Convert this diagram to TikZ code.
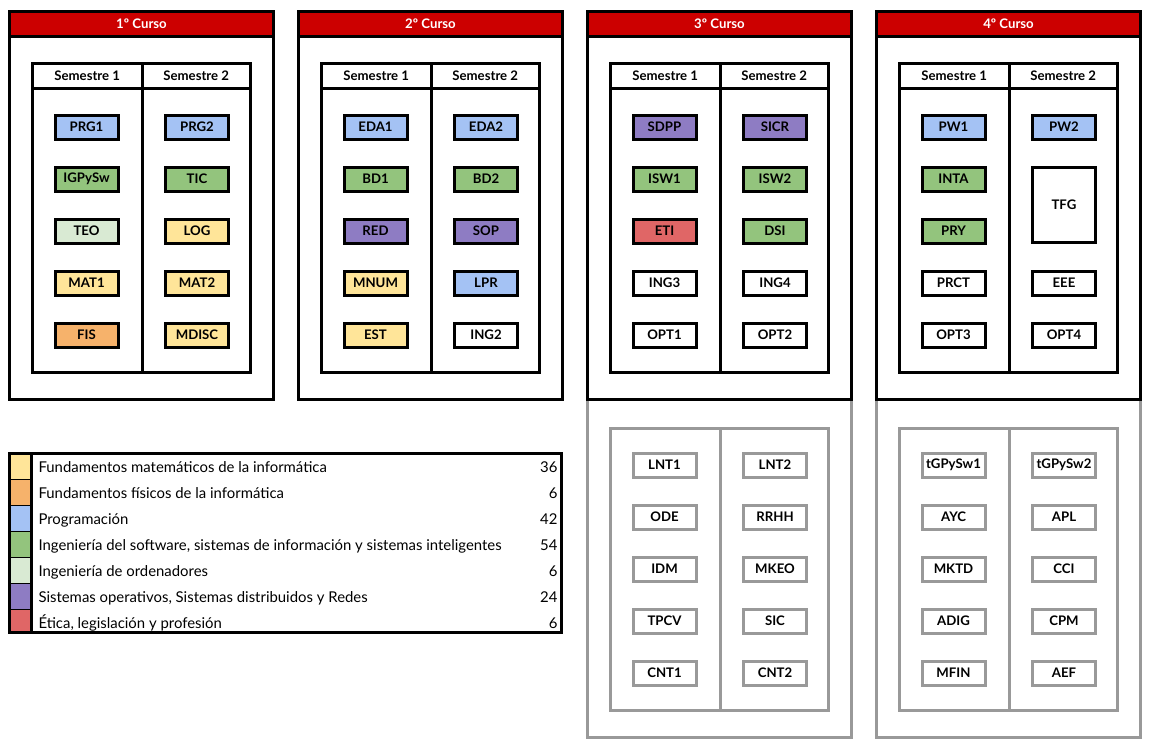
\documentclass[tikz,border=0pt]{standalone}
\usepackage{fontspec}
\setmainfont{Lato}
\usetikzlibrary{positioning}
\definecolor{hdrred}{HTML}{CC0000}
\definecolor{optgray}{HTML}{999999}
\definecolor{cmat}{HTML}{FFE599}
\definecolor{cfis}{HTML}{F6B26B}
\definecolor{cprog}{HTML}{A4C2F4}
\definecolor{csoft}{HTML}{93C47D}
\definecolor{ccomp}{HTML}{D9EAD3}
\definecolor{cso}{HTML}{8E7CC3}
\definecolor{ceti}{HTML}{E06666}

\begin{document}
\begin{tikzpicture}[x=1pt,y=1pt,line width=3pt,
  font=\bfseries\fontsize{13.2}{15}\selectfont,
  subj/.style={draw,minimum width=63pt,minimum height=24pt,inner sep=0pt},
  optsubj/.style={subj,draw=optgray,fill=white},
  legtext/.style={inner sep=0pt,font=\normalfont\fontsize{14.9}{17}\selectfont}]
  \useasboundingbox (0,0) rectangle (1154,-750);
  % optional blocks (3 and 4)
  \foreach \c in {2,3} {
    \draw[optgray] (\c*289+9.5,-399.5) rectangle (\c*289+273.5,-737.5);
    \draw[optgray] (\c*289+32.5,-428.5) rectangle (\c*289+250.5,-710.5);
    \draw[optgray] (\c*289+142,-428.5) -- (\c*289+142,-710.5);
  }
  % courses
  \foreach \c/\t in {0/1,1/2,2/3,3/4} {
    \draw[fill=white] (\c*289+9.5,-11.5) rectangle (\c*289+273.5,-399.5);
    \draw[fill=hdrred] (\c*289+9.5,-11.5) rectangle (\c*289+273.5,-36.5);
    \node[text=white] (curso\t) at (\c*289+141.5,-23.5) {{\t}º Curso};
    \draw (\c*289+32.5,-63.5) rectangle (\c*289+250.5,-372.5);
    \draw (\c*289+32.5,-88) -- (\c*289+250.5,-88);
    \draw (\c*289+142,-63.5) -- (\c*289+142,-372.5);
    \node (sem\t-1) at (\c*289+87.25,-75.5) {Semestre 1};
    \node (sem\t-2) at (\c*289+196.25,-75.5) {Semestre 2};
  }
  % 1º curso
  \foreach \n/\f [count=\k from 0] in {PRG1/cprog,IGPySw/csoft,TEO/ccomp,MAT1/cmat,FIS/cfis}
    \node[subj,fill=\f] (\n) at (86.5,-127-52*\k) {\n};
  \foreach \n/\f [count=\k from 0] in {PRG2/cprog,TIC/csoft,LOG/cmat,MAT2/cmat,MDISC/cmat}
    \node[subj,fill=\f] (\n) at (197,-127-52*\k) {\n};
  % 2º curso
  \foreach \n/\f [count=\k from 0] in {EDA1/cprog,BD1/csoft,RED/cso,MNUM/cmat,EST/cmat}
    \node[subj,fill=\f] (\n) at (375.5,-127-52*\k) {\n};
  \foreach \n/\f [count=\k from 0] in {EDA2/cprog,BD2/csoft,SOP/cso,LPR/cprog,ING2/white}
    \node[subj,fill=\f] (\n) at (486,-127-52*\k) {\n};
  % 3º curso
  \foreach \n/\f [count=\k from 0] in {SDPP/cso,ISW1/csoft,ETI/ceti,ING3/white,OPT1/white}
    \node[subj,fill=\f] (\n) at (664.5,-127-52*\k) {\n};
  \foreach \n/\f [count=\k from 0] in {SICR/cso,ISW2/csoft,DSI/csoft,ING4/white,OPT2/white}
    \node[subj,fill=\f] (\n) at (775,-127-52*\k) {\n};
  % 4º curso
  \foreach \n/\f [count=\k from 0] in {PW1/cprog,INTA/csoft,PRY/csoft,PRCT/white,OPT3/white}
    \node[subj,fill=\f] (\n) at (953.5,-127-52*\k) {\n};
  \node[subj,fill=cprog] (PW2) at (1064,-127) {PW2};
  \node[subj,fill=white,minimum height=75pt] (TFG) at (1064,-205) {TFG};
  \node[subj,fill=white] (EEE) at (1064,-283) {EEE};
  \node[subj,fill=white] (OPT4) at (1064,-335) {OPT4};
  % optativas
  \foreach \n [count=\k from 0] in {LNT1,ODE,IDM,TPCV,CNT1}
    \node[optsubj] (\n) at (664.5,-465-52*\k) {\n};
  \foreach \n [count=\k from 0] in {LNT2,RRHH,MKEO,SIC,CNT2}
    \node[optsubj] (\n) at (775,-465-52*\k) {\n};
  \foreach \n [count=\k from 0] in {tGPySw1,AYC,MKTD,ADIG,MFIN}
    \node[optsubj] (\n) at (953.5,-465-52*\k) {\n};
  \foreach \n [count=\k from 0] in {tGPySw2,APL,CCI,CPM,AEF}
    \node[optsubj] (\n) at (1064,-465-52*\k) {\n};
  % legend
  \begin{scope}
    \clip (9.5,-453.5) rectangle (31,-632.5);
    \foreach \f [count=\k from 0] in {cmat,cfis,cprog,csoft,ccomp,cso,ceti}
      \draw[line width=1pt,fill=\f] (9.5,-453.5-26*\k) rectangle (31,-479.5-26*\k);
  \end{scope}
  \draw (9.5,-453.5) rectangle (561.5,-632.5);
  \draw (31,-453.5) -- (31,-632.5);
  \foreach \t/\v [count=\k from 0] in {
      {Fundamentos matemáticos de la informática}/36,
      {Fundamentos físicos de la informática}/6,
      {Programación}/42,
      {Ingeniería del software, sistemas de información y sistemas inteligentes}/54,
      {Ingeniería de ordenadores}/6,
      {Sistemas operativos, Sistemas distribuidos y Redes}/24,
      {Ética, legislación y profesión}/6} {
    \node[legtext,anchor=base west] (leg\k) at (37,-472-26*\k) {\t};
    \node[legtext,anchor=base east] (val\k) at (559,-472-26*\k) {\v};
  }
\end{tikzpicture}
\end{document}
